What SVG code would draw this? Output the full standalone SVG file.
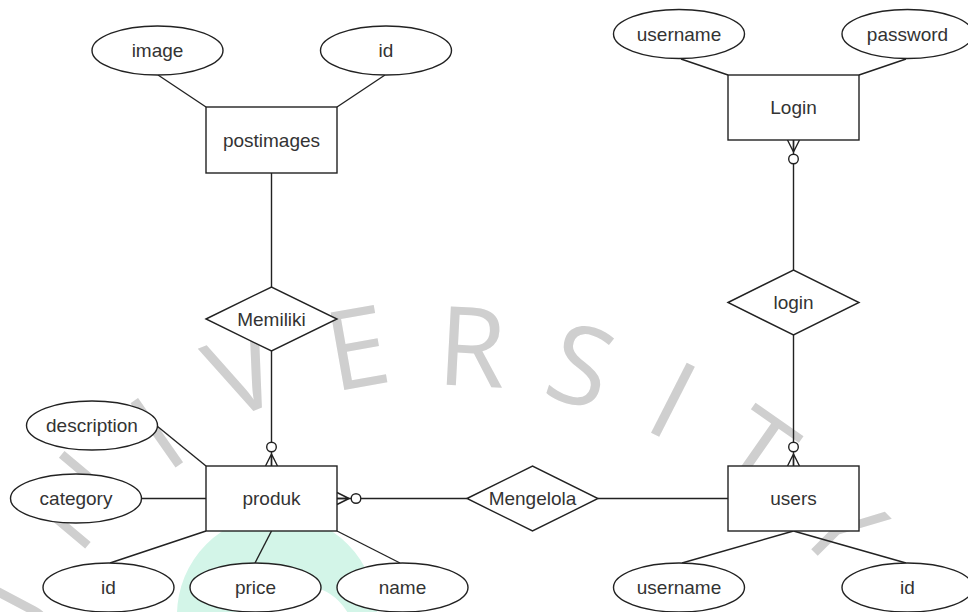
<svg xmlns="http://www.w3.org/2000/svg" width="968" height="612" viewBox="0 0 968 612">
<style>
.wm{font-family:"Open Sans","Liberation Sans",sans-serif;font-size:110px;fill:#cfcfcf;text-anchor:middle}
.ent{fill:#fff;stroke:#222;stroke-width:1.4}
.lbl{font-family:"Liberation Sans",Arial,sans-serif;font-size:19px;fill:#333;text-anchor:middle}
.ln{fill:none;stroke:#222;stroke-width:1.4}
</style>
<defs>
<marker id="zeroMany" markerUnits="userSpaceOnUse" viewBox="-26 -8 28 16" markerWidth="28" markerHeight="16" refX="0" refY="0" orient="auto">
<path d="M-12,0 L0,-6 M-12,0 L0,0 M-12,0 L0,6" fill="none" stroke="#222" stroke-width="1.4"/>
<circle cx="-19" cy="0" r="4.8" fill="#fff" stroke="#222" stroke-width="1.4"/>
</marker>
</defs>
<g id="watermark">
<path d="M177,615 A100,100 0 0 1 377,615 L355,640 A55,55 0 0 0 245,640 Z" fill="#d3f5e8" fill-rule="evenodd"/>
<text class="wm" transform="translate(12,628) rotate(-62)" y="39">U</text>
<text class="wm" transform="translate(75,500) rotate(-50)" y="39">N</text>
<text class="wm" transform="translate(157,433) rotate(-35)" y="39">I</text>
<text class="wm" transform="translate(243,373) rotate(-22)" y="39">V</text>
<text class="wm" transform="translate(357,348) rotate(-10)" y="39">E</text>
<text class="wm" transform="translate(472,347) rotate(3)" y="39">R</text>
<text class="wm" transform="translate(581,366) rotate(18)" y="39">S</text>
<text class="wm" transform="translate(673,400) rotate(27)" y="39">I</text>
<text class="wm" transform="translate(757,452) rotate(35)" y="39">T</text>
<text class="wm" transform="translate(842,525) rotate(45)" y="39">Y</text>
</g>
<g id="connectors">
<path class="ln" d="M158,75 L206,107"/>
<path class="ln" d="M385,75 L337,107"/>
<path class="ln" d="M271.5,173 V287"/>
<path class="ln" d="M271.5,351 V466" marker-end="url(#zeroMany)"/>
<path class="ln" d="M157,426 L206,466"/>
<path class="ln" d="M142,498.5 H206"/>
<path class="ln" d="M110,563 L206,531"/>
<path class="ln" d="M255,563 L271.5,531"/>
<path class="ln" d="M400,563 L337,531"/>
<path class="ln" d="M467,498.5 H337" marker-end="url(#zeroMany)"/>
<path class="ln" d="M598,498.5 H728"/>
<path class="ln" d="M793.5,270 V140" marker-end="url(#zeroMany)"/>
<path class="ln" d="M793.5,335 V466" marker-end="url(#zeroMany)"/>
<path class="ln" d="M681,59 L728,75"/>
<path class="ln" d="M906,59 L859,75"/>
<path class="ln" d="M682,563 L793.5,531"/>
<path class="ln" d="M906,563 L793.5,531"/>
</g>
<g id="postimages"><rect class="ent" x="206" y="107" width="131" height="66"/><text class="lbl" x="271.5" y="146.5">postimages</text></g>
<g id="attr-image"><ellipse class="ent" cx="157.5" cy="50.5" rx="65.5" ry="24.5"/><text class="lbl" x="157.5" y="57">image</text></g>
<g id="attr-post-id"><ellipse class="ent" cx="386" cy="50.5" rx="65.5" ry="24.5"/><text class="lbl" x="386" y="57">id</text></g>
<g id="memiliki"><polygon class="ent" points="206,319 271.5,287 337,319 271.5,351"/><text class="lbl" x="271.5" y="325.5">Memiliki</text></g>
<g id="produk"><rect class="ent" x="206" y="466" width="131" height="65"/><text class="lbl" x="271.5" y="505">produk</text></g>
<g id="attr-description"><ellipse class="ent" cx="92" cy="425.5" rx="65.5" ry="24.5"/><text class="lbl" x="92" y="432">description</text></g>
<g id="attr-category"><ellipse class="ent" cx="76" cy="498.5" rx="65.5" ry="24.5"/><text class="lbl" x="76" y="505">category</text></g>
<g id="attr-produk-id"><ellipse class="ent" cx="108.5" cy="587.5" rx="65.5" ry="24.5"/><text class="lbl" x="108.5" y="594">id</text></g>
<g id="attr-price"><ellipse class="ent" cx="255.5" cy="587.5" rx="65.5" ry="24.5"/><text class="lbl" x="255.5" y="594">price</text></g>
<g id="attr-name"><ellipse class="ent" cx="402.5" cy="587.5" rx="65.5" ry="24.5"/><text class="lbl" x="402.5" y="594">name</text></g>
<g id="mengelola"><polygon class="ent" points="467,498.5 532.5,466 598,498.5 532.5,531"/><text class="lbl" x="532.5" y="505">Mengelola</text></g>
<g id="users"><rect class="ent" x="728" y="466" width="131" height="65"/><text class="lbl" x="793.5" y="505">users</text></g>
<g id="attr-users-username"><ellipse class="ent" cx="679" cy="587.5" rx="65.5" ry="24.5"/><text class="lbl" x="679" y="594">username</text></g>
<g id="attr-users-id"><ellipse class="ent" cx="907.5" cy="587.5" rx="65.5" ry="24.5"/><text class="lbl" x="907.5" y="594">id</text></g>
<g id="login-rel"><polygon class="ent" points="728,302.5 793.5,270 859,302.5 793.5,335"/><text class="lbl" x="793.5" y="309">login</text></g>
<g id="Login"><rect class="ent" x="728" y="75" width="131" height="65"/><text class="lbl" x="793.5" y="114">Login</text></g>
<g id="attr-login-username"><ellipse class="ent" cx="679" cy="34" rx="65.5" ry="24.5"/><text class="lbl" x="679" y="40.5">username</text></g>
<g id="attr-password"><ellipse class="ent" cx="907.5" cy="34" rx="65.5" ry="24.5"/><text class="lbl" x="907.5" y="40.5">password</text></g>
</svg>
